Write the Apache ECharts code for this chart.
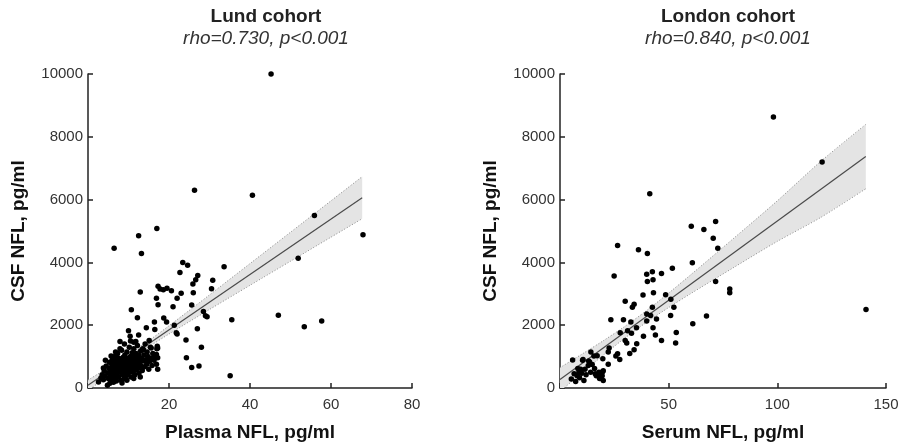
<!DOCTYPE html>
<html>
<head>
<meta charset="utf-8">
<script src="https://cdn.jsdelivr.net/npm/echarts@6/dist/echarts.min.js"></script>
<style>html,body{margin:0;padding:0;background:#fff}#c{width:902px;height:447px}</style>
</head>
<body>
<div id="c"></div>
<script>
// ---------- Lund cohort (Plasma NFL vs CSF NFL) ----------
const lundPoints = [
 [2.6,190],[3.2,320],[3.5,420],[3.8,260],[4.0,550],[4.2,380],[4.5,700],[4.8,90],[4.9,480],[5.0,300],[5.2,620],[5.3,820],[5.5,410],[5.6,530],[5.8,250],[5.9,720],[6.0,900],[6.1,350],[6.2,600],[6.4,480],[6.5,780],[6.6,1000],[6.7,300],[6.8,650],[6.9,540],[7.0,850],[7.1,420],[7.2,720],[7.3,1100],[7.4,600],[7.5,350],[7.6,950],[7.7,500],[7.8,780],[7.9,660],[8.0,880],[8.1,250],[8.2,560],[8.3,1200],[8.4,720],[8.5,430],[8.6,820],[8.7,980],[8.8,620],[8.9,300],[9.0,750],[9.1,1050],[9.2,520],[9.3,880],[9.4,680],[9.5,400],[9.6,1150],[9.7,800],[9.8,600],[9.9,950],[10.0,480],[10.1,720],[10.2,1300],[10.3,850],[10.4,560],[10.5,1000],[10.6,350],[10.7,760],[10.8,640],[10.9,1120],[11.0,900],[11.1,500],[11.2,800],[11.3,1250],[11.4,680],[11.5,980],[11.6,420],[11.7,860],[11.8,1100],[11.9,580],[12.0,760],[12.2,1350],[12.3,920],[12.4,640],[12.5,1050],[12.6,480],[12.8,820],[13.0,1180],[13.1,700],[13.2,950],[13.4,560],[13.5,1250],[13.6,860],[13.8,1050],[14.0,680],[14.1,1400],[14.3,900],[14.5,760],[14.6,1150],[14.8,1000],[15.0,600],[15.2,850],[15.4,1300],[15.6,950],[15.8,720],[16.0,1100],[16.3,880],[16.6,1000],[16.9,760],[17.0,1250],[5.4,150],[6.3,180],[7.0,220],[8.4,160],[9.6,250],[6.8,1150],[7.9,1250],[9.0,1400],[10.5,1500],[11.8,1480],[4.3,880],[5.7,1020],[3.8,640],[12.9,350],[11.3,300],
 [6.45,4450],[12.5,4850],[17.0,5080],[26.3,6300],[45.2,10000],[40.6,6140],[55.9,5490],[67.9,4880],[51.9,4130],[47.0,2320],[53.4,1950],[57.7,2130],[13.2,4280],[23.4,4000],[24.6,3910],[22.7,3680],[33.6,3860],[27.1,3580],[26.6,3450],[25.9,3310],[30.8,3430],[30.5,3160],[17.3,3240],[17.8,3150],[18.6,3130],[19.5,3180],[12.9,3060],[20.6,3100],[16.9,2860],[22.0,2860],[17.3,2650],[21.0,2590],[10.7,2490],[12.2,2240],[16.4,2100],[18.7,2230],[19.4,2100],[21.3,2000],[21.8,1760],[10.0,1820],[14.4,1920],[16.5,1860],[10.4,1650],[12.5,1690],[22.0,1720],[27.0,1890],[25.6,2640],[28.5,2440],[29.0,2300],[29.4,2270],[11.3,1460],[24.2,1530],[28.0,1300],[24.3,960],[25.6,650],[27.4,700],[35.5,2170],[35.1,390],[23.0,3020],[26.0,3030],[7.9,1480],[15.6,1270],[17.2,1270],[17.2,960],[17.2,600],[15.1,1510],[13.7,1220],[17.1,1330],[16.9,1070]
];
const lundFit = [[0,84],[67.7,6062]];
const lundBandX     = [0, 5, 10, 15, 20, 30, 40, 50, 60, 67.7];
const lundBandUpper = [253, 649, 1060, 1506, 1981, 2965, 3962, 4961, 5961, 6732];
const lundBandLower = [-85, 403, 874, 1312, 1719, 2501, 3270, 4037, 4803, 5392];

// ---------- London cohort (Serum NFL vs CSF NFL) ----------
const londonPoints = [
 [98.2,8630],[120.6,7200],[140.8,2500],[78.1,3030],[78.1,3150],[41.3,6190],[60.4,5150],[66.2,5050],[71.6,5300],[70.5,4770],[72.6,4450],[26.5,4540],[36.1,4400],[40.2,4280],[60.9,3990],[51.7,3810],[24.9,3570],[39.9,3620],[42.5,3700],[46.7,3650],[40.2,3390],[42.8,3450],[71.6,3390],[38.2,2960],[43.0,3030],[48.6,2970],[51.0,2830],[30.0,2760],[34.1,2670],[33.3,2570],[52.4,2570],[42.5,2570],[39.9,2360],[41.7,2310],[44.4,2200],[50.9,2310],[67.4,2290],[23.4,2170],[29.2,2170],[32.6,2100],[39.9,2130],[61.1,2050],[35.2,1920],[27.7,1760],[31.1,1820],[32.9,1740],[38.4,1650],[42.8,1920],[43.9,1690],[46.7,1510],[53.5,1770],[53.2,1430],[30.0,1510],[30.7,1430],[35.3,1410],[34.1,1220],[32.1,1100],[26.5,1090],[27.5,910],[25.7,1020],[22.6,1270],[22.2,1150],[22.2,760],[19.7,930],[19.6,520],[14.2,1150],[10.4,880],[13.2,860],[5.8,890],
 [5.2,290],[7.2,210],[8.7,500],[7.9,390],[10.0,470],[11.0,240],[9.5,600],[10.6,910],[13.6,830],[14.8,750],[15.6,1020],[17.1,1030],[15.9,620],[16.7,390],[17.9,500],[18.7,450],[19.4,390],[19.9,550],[19.9,240],[14.1,500],[13.0,720],[11.5,600],[9.0,330],[12.0,420],[8.2,620],[16.2,450],[18.2,300],[6.5,450]
];
const londonFit = [[0,270],[140.7,7370]];
const londonBandX     = [0, 10, 20, 30, 40, 50, 60, 80, 100, 120, 140.7];
const londonBandUpper = [649, 1074, 1509, 1970, 2474, 3023, 3597, 4773, 5962, 7218, 8395];
const londonBandLower = [-109, 476, 1049, 1598, 2102, 2563, 2999, 3841, 4670, 5432, 6345];

const yTicks = [0, 2000, 4000, 6000, 8000, 10000];

const FONT = 'Liberation Sans, Arial, sans-serif';

function bandSeries(idx, xs, up, lo) {
  return {
    type: 'custom', xAxisIndex: idx, yAxisIndex: idx, clip: true, z: 1, silent: true,
    data: [[xs[0], up[0]]],
    renderItem: function (params, api) {
      const upPts = xs.map((x, i) => api.coord([x, up[i]]));
      const loPts = xs.map((x, i) => api.coord([x, lo[i]]));
      const poly = upPts.concat(loPts.slice().reverse());
      return {
        type: 'group',
        children: [
          { type: 'polygon', shape: { points: poly }, style: { fill: '#e4e4e4', stroke: null } },
          { type: 'polyline', shape: { points: upPts, smooth: 0.3 }, style: { stroke: '#8a8a8a', lineWidth: 1, lineDash: [1, 2], fill: null } },
          { type: 'polyline', shape: { points: loPts, smooth: 0.3 }, style: { stroke: '#8a8a8a', lineWidth: 1, lineDash: [1, 2], fill: null } }
        ]
      };
    }
  };
}

function xAxisDef(idx, max, interval, name) {
  return {
    type: 'value', gridIndex: idx, min: 0, max: max, interval: interval,
    name: name, nameLocation: 'middle', nameGap: 35,
    nameTextStyle: { fontFamily: FONT, fontWeight: 'bold', fontSize: 19, color: '#111' },
    axisLine: { show: true, onZero: false, lineStyle: { color: '#222', width: 1.5 } },
    axisTick: { show: true, inside: true, length: 5, lineStyle: { color: '#222', width: 1.5 } },
    axisLabel: { fontFamily: FONT, fontSize: 15, color: '#333', margin: 9,
      formatter: v => (v === 0 ? '' : String(v)) },
    splitLine: { show: false }
  };
}
function yAxisDef(idx) {
  return {
    type: 'value', gridIndex: idx, min: yTicks[0], max: yTicks[yTicks.length - 1], interval: 2000,
    name: 'CSF NFL, pg/ml', nameLocation: 'middle', nameGap: 60,
    nameTextStyle: { fontFamily: FONT, fontWeight: 'bold', fontSize: 19, color: '#111' },
    axisLine: { show: true, onZero: false, lineStyle: { color: '#222', width: 1.5 } },
    axisTick: { show: true, inside: true, length: 5, lineStyle: { color: '#222', width: 1.5 } },
    axisLabel: { fontFamily: FONT, fontSize: 15, color: '#333', margin: 5,
      formatter: v => String(v) },
    splitLine: { show: false }
  };
}

const chart = echarts.init(document.getElementById('c'), null, { renderer: 'canvas' });
chart.setOption({
  backgroundColor: '#fff',
  animation: false,
  title: [
    { text: 'Lund cohort', subtext: 'rho=0.730, p<0.001', left: 261, top: 2, textAlign: 'center', itemGap: 3,
      textStyle: { fontFamily: FONT, fontWeight: 'bold', fontSize: 19, color: '#222' },
      subtextStyle: { fontFamily: FONT, fontStyle: 'italic', fontSize: 19, color: '#333' } },
    { text: 'London cohort', subtext: 'rho=0.840, p<0.001', left: 723, top: 2, textAlign: 'center', itemGap: 3,
      textStyle: { fontFamily: FONT, fontWeight: 'bold', fontSize: 19, color: '#222' },
      subtextStyle: { fontFamily: FONT, fontStyle: 'italic', fontSize: 19, color: '#333' } }
  ],
  grid: [
    { left: 88, top: 74, width: 324, height: 322 },
    { left: 560, top: 74, width: 326, height: 322 }
  ],
  xAxis: [ xAxisDef(0, 80, 20, 'Plasma NFL, pg/ml'), xAxisDef(1, 150, 50, 'Serum NFL, pg/ml') ],
  yAxis: [ yAxisDef(0), yAxisDef(1) ],
  series: [
    bandSeries(0, lundBandX, lundBandUpper, lundBandLower),
    bandSeries(1, londonBandX, londonBandUpper, londonBandLower),
    { type: 'line', xAxisIndex: 0, yAxisIndex: 0, data: lundFit, symbol: 'none', z: 2, clip: true,
      lineStyle: { color: '#4a4a4a', width: 1.2 } },
    { type: 'line', xAxisIndex: 1, yAxisIndex: 1, data: londonFit, symbol: 'none', z: 2, clip: true,
      lineStyle: { color: '#4a4a4a', width: 1.2 } },
    { type: 'scatter', xAxisIndex: 0, yAxisIndex: 0, data: lundPoints, symbolSize: 5.5, z: 3,
      itemStyle: { color: '#000', opacity: 1, borderWidth: 0 } },
    { type: 'scatter', xAxisIndex: 1, yAxisIndex: 1, data: londonPoints, symbolSize: 5.5, z: 3,
      itemStyle: { color: '#000', opacity: 1, borderWidth: 0 } }
  ]
});
</script>
</body>
</html>
